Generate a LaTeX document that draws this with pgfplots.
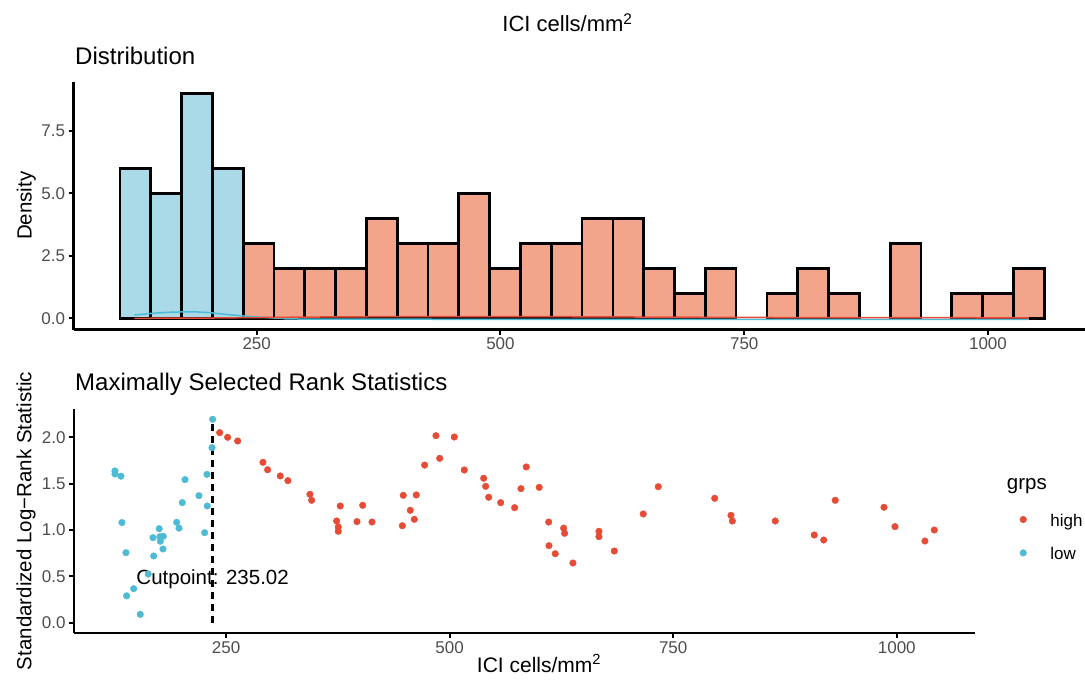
\documentclass[border=0pt]{standalone}
\usepackage{pgfplots}
\pgfplotsset{compat=1.18}
\usepackage{fontspec}
\setmainfont{Liberation Sans}
\definecolor{hiR}{HTML}{E64B35}
\definecolor{loB}{HTML}{4DBBD5}
\definecolor{hiF}{HTML}{F3A58B}
\definecolor{loF}{HTML}{AAD9E8}
\definecolor{tickg}{HTML}{4D4D4D}
\newcommand\fs[1]{\fontsize{#1bp}{#1bp}\selectfont}
\pgfplotsset{
  common/.style={
    scale only axis, axis lines=left, axis line style={line width=2.2bp, -},
    tick align=outside, major tick length=5bp, tick style={line width=2bp, black},
    every tick label/.append style={font=\fs{17}, text=tickg},
    /pgf/number format/assume math mode=true,
    clip=false,
  },
  bars/.style={ybar, bar width=31.6, bar shift=0pt, draw=black, line width=2.7bp, line join=miter},
}
\begin{document}
\begin{tikzpicture}
\path[use as bounding box] (0bp,0bp) rectangle (1085bp,684bp);
% ---------------- top panel ----------------
\begin{axis}[common, at={(73.5bp,354.45bp)}, anchor=south west,
  width=1011.5bp, height=247.5bp,
  xmin=62.1, xmax=1099.5, ymin=-0.45, ymax=9.45,
  xtick={250,500,750,1000}, xticklabels={250,500,750,1000},
  ytick={0,2.5,5,7.5}, yticklabels={0.0,2.5,5.0,7.5}]
\addplot[bars, fill=loF] coordinates {(125.5,6) (157.1,5) (188.7,9) (220.3,6)};
\addplot[bars, fill=hiF] coordinates {
(251.9,3) (283.5,2) (315.1,2) (346.7,2) (378.3,4) (409.9,3) (441.5,3) (473.1,5)
(504.7,2) (536.3,3) (567.9,3) (599.5,4) (631.1,4) (662.7,2) (694.3,1) (725.9,2)
(789.1,1) (820.7,2) (852.3,1) (915.5,3) (978.7,1) (1010.3,1) (1041.9,2)};
\addplot[loB, line width=1.5bp, smooth] coordinates {
(124.5,0.13) (140,0.19) (160,0.24) (183,0.26) (200,0.23) (215,0.17) (235,0.10)
(255,0.04) (275,0.0) (300,-0.03) (500,-0.04) (800,-0.04) (1042,-0.04)};
\addplot[hiR, line width=1.5bp, smooth] coordinates {
(124.5,0.0) (200,0.01) (250,0.03) (350,0.06) (500,0.07) (650,0.05) (800,0.03) (1042,0.02)};
\end{axis}
% ---------------- bottom panel ----------------
\begin{axis}[common, at={(74bp,51.1bp)}, anchor=south west,
  width=901.2bp, height=223.8bp,
  xmin=80.0, xmax=1087.7, ymin=-0.11, ymax=2.304,
  xtick={250,500,750,1000}, xticklabels={250,500,750,1000},
  ytick={0,0.5,1,1.5,2}, yticklabels={0.0,0.5,1.0,1.5,2.0},
  legend style={at={(1.0492,0.5375)}, anchor=north west, draw=none, fill=none,
    inner sep=0pt, row sep=20bp, column sep=0bp, font=\fs{17},
    nodes={inner sep=0pt, text height=13.4bp, text depth=0bp}},
  legend cell align=left,
  legend image code/.code={\draw plot coordinates {(0bp,0bp)}; \path (-3.3bp,0bp) (27bp,0bp);},
  ]
\addplot[only marks, mark=*, mark size=3.3bp, color=hiR] coordinates {
(242.9,2.05) (251.8,2.00) (263.0,1.96) (291.3,1.73) (296.5,1.65) (310.6,1.583)
(319.2,1.532) (343.8,1.385) (345.7,1.32) (377.7,1.259) (373.7,1.097) (375.5,1.032)
(375.5,0.986) (396.4,1.09) (402.8,1.266) (413.2,1.086) (447.1,1.046) (448.2,1.374)
(456.0,1.212) (460.5,1.115) (462.7,1.378) (472.1,1.70) (484.7,2.017) (488.9,1.773)
(505.2,2.003) (516.4,1.647) (538.1,1.558) (540.3,1.471) (543.7,1.353) (557.1,1.295)
(572.7,1.241) (579.8,1.446) (585.7,1.68) (600.2,1.46) (610.8,1.086) (611.1,0.831)
(618.1,0.744) (627.5,1.02) (628.6,0.964) (637.9,0.644) (667.0,0.986) (667.0,0.928)
(684.1,0.773) (716.5,1.173) (733.3,1.467) (796.4,1.342) (814.6,1.158) (816.1,1.097)
(864.1,1.097) (907.7,0.946) (918.3,0.892) (931.2,1.32) (985.7,1.245) (998.0,1.036)
(1031.5,0.881) (1041.9,1.0)};
\addlegendentry{high}
\addplot[only marks, mark=*, mark size=3.3bp, color=loB] coordinates {
(125.8,1.637) (125.8,1.604) (132.5,1.58) (133.6,1.08) (138.1,0.755) (138.9,0.29)
(146.7,0.367) (154.1,0.09) (163.0,0.525) (168.3,0.917) (169.1,0.72) (175.3,1.014)
(176.1,0.928) (176.5,0.878) (179.8,0.932) (179.5,0.795) (194.8,1.083) (197.4,1.02)
(201.1,1.295) (204.1,1.543) (219.7,1.37) (226.1,0.971) (228.7,1.60) (229.0,1.259)
(234.3,1.888) (235.02,2.194)};
\addlegendentry{low}
\addplot[forget plot, black, line width=2.3bp, dash pattern=on 7bp off 5bp] coordinates {(235.02,0) (235.02,2.194)};
\node[anchor=base, font=\fs{20.5}, text=black] at (axis cs:235.02,0.414) {Cutpoint: 235.02};
\end{axis}
% ---------------- texts ----------------
\node[anchor=base, font=\fs{22}] at (567.5bp,652.3bp) {ICI cells/mm\textsuperscript{2}};
\node[anchor=base west, font=\fs{24}, inner sep=0pt] at (75bp,619bp) {Distribution};
\node[anchor=base west, font=\fs{24}, inner sep=0pt] at (75bp,293bp) {Maximally Selected Rank Statistics};
\node[anchor=base, rotate=90, font=\fs{20.5}, inner sep=0pt] at (31.7bp,478.2bp) {Density};
\node[anchor=base, rotate=90, font=\fs{20.5}, inner sep=0pt] at (31.4bp,163bp) {Standardized Log−Rank Statistic};
\node[anchor=base, font=\fs{21}, inner sep=0pt] at (539bp,12bp) {ICI cells/mm\textsuperscript{2}};
\node[anchor=base west, font=\fs{20.5}, inner sep=0pt] at (1006.7bp,194bp) {grps};
\end{tikzpicture}
\end{document}
